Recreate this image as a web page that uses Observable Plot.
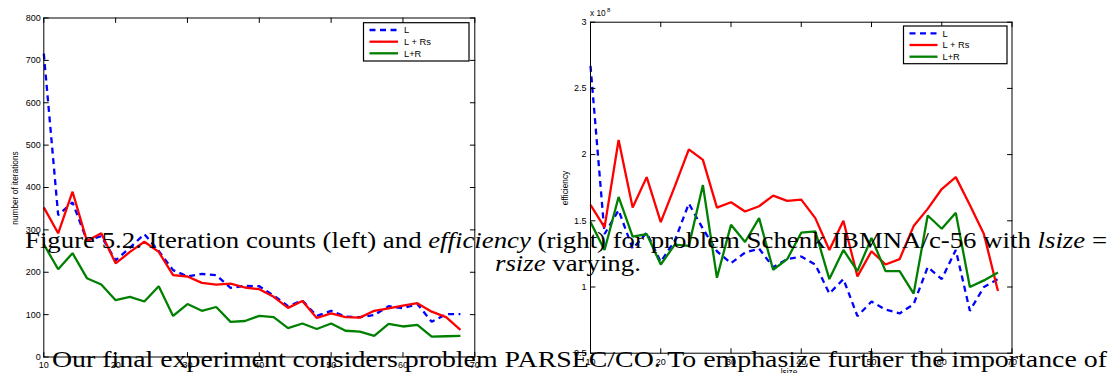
<!DOCTYPE html>
<html><head><meta charset="utf-8">
<script src="https://cdn.jsdelivr.net/npm/d3@7"></script>
<script src="https://cdn.jsdelivr.net/npm/@observablehq/plot@0.6"></script>
<style>
html,body{margin:0;padding:0;background:#fff;}
#wrap{position:relative;width:1110px;height:373px;overflow:hidden;font-family:"Liberation Sans",Arial,sans-serif;}
.chart{position:absolute;top:0;}
#overlay{position:absolute;left:0;top:0;}
.tx{position:absolute;font-family:"Liberation Serif","Times New Roman",serif;font-size:23px;line-height:23px;color:#000;white-space:nowrap;transform-origin:0 0;}
</style>
</head><body>
<div id="wrap">
  <div id="c1" class="chart" style="left:0px"></div>
  <div id="c2" class="chart" style="left:555px"></div>
</div>
<script>
// ---- data ----
const xs = [10,12,14,16,18,20,22,24,26,28,30,32,34,36,38,40,42,44,46,48,50,52,54,56,58,60,62,64,66,68];
const seriesNames = ["L", "L + Rs", "L+R"];
const seriesColors = ["#0000ff", "#ff0000", "#008000"];
// left: number of iterations
const iterL   = [716,335,365,275,285,228,258,290,250,205,190,196,193,163,168,167,145,120,133,97,109,95,94,99,120,115,125,83,101,101];
const iterLRs = [353,292,390,274,292,221,248,272,248,193,190,175,171,173,164,160,142,116,132,92,103,94,93,109,115,121,127,107,94,64];
const iterLR  = [266,207,245,186,171,134,142,131,167,97,125,109,118,83,85,97,94,68,79,66,79,62,60,50,78,72,76,48,49,50];
// right: efficiency (x 10^8)
const effL   = [2.67,1.40,1.58,1.29,1.41,1.19,1.35,1.63,1.44,1.27,1.18,1.26,1.29,1.15,1.21,1.23,1.17,0.95,1.06,0.78,0.89,0.83,0.80,0.87,1.15,1.06,1.28,0.82,1.00,1.06];
const effLRs = [1.62,1.45,2.11,1.60,1.83,1.49,1.76,2.04,1.96,1.60,1.64,1.57,1.61,1.69,1.65,1.66,1.52,1.28,1.50,1.08,1.27,1.17,1.21,1.46,1.59,1.74,1.83,1.62,1.40,0.97];
const effLR  = [1.49,1.28,1.68,1.38,1.40,1.17,1.32,1.31,1.77,1.07,1.47,1.34,1.52,1.13,1.21,1.41,1.42,1.06,1.28,1.12,1.37,1.12,1.12,0.95,1.54,1.44,1.56,1.00,1.05,1.11];
const xTicks = [10,20,30,40,50,60,70];
const yTicksLeft = [0,100,200,300,400,500,600,700,800];
const yTicksRight = [0.5,1,1.5,2,2.5,3];

function table(vals){ return xs.map((x,i)=>({x, y: vals[i]})); }

// straight inward tick shape for the vector mark
const tickShape = {draw(context, l) { context.moveTo(0, 0); context.lineTo(0, -l); }};

function chart({series, yDomain, yTicks, width, mL, mR, mT, mB, yPad}) {
  const T = 4.5;
  const tk = {length: T, anchor: "start", shape: tickShape, stroke: "#000", strokeWidth: 1};
  const marks = [];
  series.forEach((vals, i) => marks.push(Plot.line(table(vals), {
    x:"x", y:"y", stroke: seriesColors[i], strokeWidth: 2.3,
    strokeLinejoin: "miter", strokeLinecap: "butt",
    strokeDasharray: i === 0 ? "6,4.5" : null
  })));
  marks.push(Plot.frame({stroke:"#000", strokeWidth: 1}));
  marks.push(Plot.axisX({ticks: xTicks, anchor:"bottom", tickSize:0, tickPadding:5, label:null, fill:"#000", tickFormat: d => String(d)}));
  marks.push(Plot.axisY({ticks: yTicks, anchor:"left", tickSize:0, tickPadding:yPad, label:null, fill:"#000", tickFormat: d => String(d)}));
  marks.push(Plot.vector(xTicks, {...tk, x: d => d, frameAnchor: "bottom", rotate: 0}));
  marks.push(Plot.vector(xTicks, {...tk, x: d => d, frameAnchor: "top", rotate: 180}));
  marks.push(Plot.vector(yTicks, {...tk, y: d => d, frameAnchor: "left", rotate: 90}));
  marks.push(Plot.vector(yTicks, {...tk, y: d => d, frameAnchor: "right", rotate: -90}));
  return Plot.plot({
    width, height: 373,
    marginLeft: mL, marginRight: mR, marginTop: mT, marginBottom: mB,
    x: {domain: [10, 70]},
    y: {domain: yDomain},
    style: {fontFamily: '"Liberation Sans", Arial, sans-serif', fontSize: "9px", background: "transparent", color: "#000", overflow: "visible"},
    marks
  });
}

document.getElementById("c1").appendChild(chart({
  series: [iterL, iterLRs, iterLR], yDomain: [0, 800], yTicks: yTicksLeft,
  width: 555, mL: 43.3, mR: 555 - 474.3, mT: 17.5, mB: 373 - 356.5, yPad: 3
}));
document.getElementById("c2").appendChild(chart({
  series: [effL, effLRs, effLR], yDomain: [0.5, 3], yTicks: yTicksRight,
  width: 555, mL: 590 - 555, mR: 1110 - 1011.5, mT: 21.7, mB: 373 - 352.7, yPad: 4
}));

// ---- overlay: axis titles, multiplier, legends ----
const NS = "http://www.w3.org/2000/svg";
const ov = document.createElementNS(NS, "svg");
ov.setAttribute("id", "overlay");
ov.setAttribute("width", 1110); ov.setAttribute("height", 373);
ov.style.fontFamily = '"Liberation Sans", Arial, sans-serif';
function el(tag, attrs, text) {
  const e = document.createElementNS(NS, tag);
  for (const k in attrs) e.setAttribute(k, attrs[k]);
  if (text != null) e.textContent = text;
  ov.appendChild(e); return e;
}
el("text", {x: 0, y: 0, transform: "translate(18,188) rotate(-90)", "text-anchor": "middle", "font-size": 8.3}, "number of iterations");
el("text", {x: 0, y: 0, transform: "translate(568,188) rotate(-90)", "text-anchor": "middle", "font-size": 8.3}, "efficiency");
el("text", {x: 590, y: 16, "font-size": 8.3}, "x 10");
el("text", {x: 607, y: 12, "font-size": 6}, "8");
el("text", {x: 789, y: 375, "text-anchor": "middle", "font-size": 8.3}, "lsize");

function legend(x0, y0, w, h, rows, lx0, lx1, tx) {
  el("rect", {x: x0, y: y0, width: w, height: h, fill: "#fff", stroke: "#000", "stroke-width": 1.2});
  seriesNames.forEach((name, i) => {
    const y = rows[i];
    el("line", {x1: lx0, x2: lx1, y1: y, y2: y, stroke: seriesColors[i], "stroke-width": 2.3,
      "stroke-dasharray": i === 0 ? "6,4.5" : "none"});
    el("text", {x: tx, y: y + 3.3, "font-size": 9.3}, name);
  });
}
legend(363.5, 22.7, 105.5, 38.3, [30, 41.7, 53.3], 369.5, 398, 404);
legend(903.5, 26, 103.5, 37.7, [33.3, 45, 56.7], 909.5, 937.5, 942.5);
document.getElementById("wrap").appendChild(ov);

// ---- page text drawn over the figure (stretched horizontally like the reference) ----
const wrap = document.getElementById("wrap");
function tx(html, top) {
  const d = document.createElement("div");
  d.className = "tx";
  d.style.top = top + "px";
  d.innerHTML = html;
  wrap.appendChild(d);
  return d;
}
function fit(d, left, width) {
  const w = d.getBoundingClientRect().width;
  const s = width / w;
  d.style.left = left + "px";
  d.style.transform = `scaleX(${s})`;
  return s;
}
const l1 = tx('Figure 5.2. Iteration counts (left) and <i>efficiency</i> (right) for problem Schenk IBMNA/c-56 with <i>lsize</i> =', 229.2);
const s1 = fit(l1, 25, 1082);
const l2 = tx('<i>rsize</i> varying.', 251.9);
const w2 = l2.getBoundingClientRect().width * s1;
l2.style.left = (567.5 - w2 / 2) + "px";
l2.style.transform = `scaleX(${s1})`;
const l3 = tx('Our final experiment considers problem PARSEC/CO. To emphasize further the importance of', 347.6);
fit(l3, 52, 1055);
</script>
</body></html>
